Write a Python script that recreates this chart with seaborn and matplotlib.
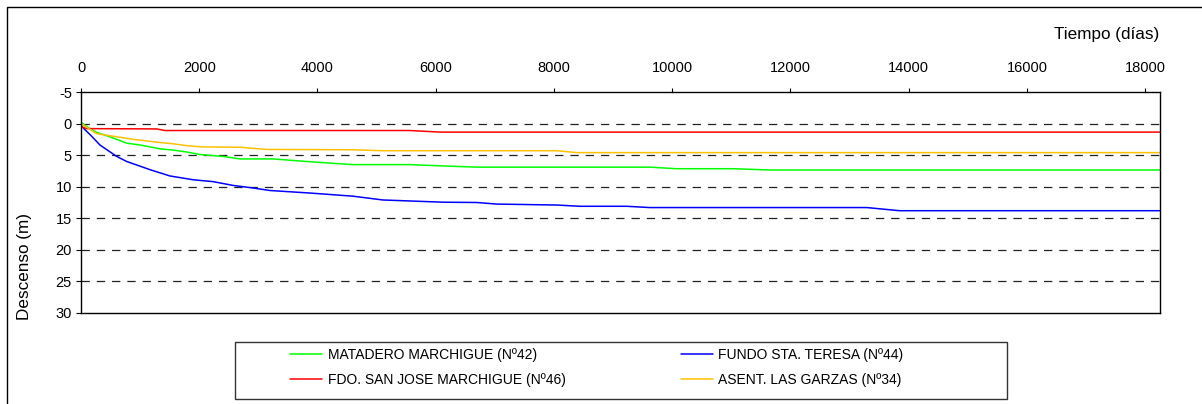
import matplotlib
matplotlib.use("Agg")
import matplotlib.pyplot as plt
from matplotlib import font_manager
from matplotlib.patches import Rectangle
import seaborn as sns
import pandas as pd
import numpy as np

# series: days and drawdown (m)
dias_42 = [0, 100, 265, 490, 772, 1000, 1335, 1560, 1787, 2012, 2400, 2690, 3250, 3800, 4600, 5560, 6100, 6700, 9620, 10075, 11020, 11650, 18250]
desc_42 = [-0.2, 0.5, 1.4, 2.1, 3.1, 3.4, 4.0, 4.2, 4.5, 4.9, 5.2, 5.6, 5.6, 6.0, 6.5, 6.5, 6.7, 6.9, 6.9, 7.15, 7.15, 7.35, 7.35]

dias_44 = [0, 60, 180, 321, 603, 772, 1166, 1505, 1899, 2237, 2575, 2910, 3195, 3871, 4600, 5105, 6120, 6695, 7030, 8050, 8435, 9230, 9620, 13290, 13845, 18250]
desc_44 = [0.3, 0.9, 2.0, 3.4, 5.2, 6.0, 7.3, 8.3, 8.9, 9.2, 9.8, 10.2, 10.6, 11.0, 11.5, 12.1, 12.45, 12.5, 12.75, 12.9, 13.1, 13.1, 13.3, 13.3, 13.8, 13.8]

dias_46 = [0, 100, 1280, 1420, 5560, 6070, 18250]
desc_46 = [0.5, 0.8, 0.85, 1.1, 1.1, 1.35, 1.35]

dias_34 = [0, 265, 885, 1335, 1560, 1787, 2065, 2688, 3140, 3250, 4600, 5105, 8050, 8385, 18250]
desc_34 = [0.0, 1.6, 2.5, 3.0, 3.2, 3.5, 3.7, 3.75, 4.1, 4.1, 4.15, 4.3, 4.3, 4.6, 4.6]

nombres = ["MATADERO MARCHIGUE (Nº42)", "FUNDO STA. TERESA (Nº44)",
           "FDO. SAN JOSE MARCHIGUE (Nº46)", "ASENT. LAS GARZAS (Nº34)"]
colores = ["#00FF00", "#0000FF", "#FF0000", "#FFC000"]

df = pd.concat([
    pd.DataFrame({"dias": dias_42, "descenso": desc_42, "pozo": nombres[0]}),
    pd.DataFrame({"dias": dias_44, "descenso": desc_44, "pozo": nombres[1]}),
    pd.DataFrame({"dias": dias_46, "descenso": desc_46, "pozo": nombres[2]}),
    pd.DataFrame({"dias": dias_34, "descenso": desc_34, "pozo": nombres[3]}),
])

sns.set_style("white")
plt.rcParams["font.family"] = ["Liberation Sans", "DejaVu Sans"]
plt.rcParams["lines.scale_dashes"] = False
plt.rcParams["axes.unicode_minus"] = False
plt.rcParams["text.color"] = "black"
plt.rcParams["xtick.color"] = "black"
plt.rcParams["ytick.color"] = "black"

names = {f.name for f in font_manager.fontManager.ttflist}
narrow = "Liberation Sans Narrow" if "Liberation Sans Narrow" in names else "Liberation Sans"

W, H = 1202, 404
fig = plt.figure(figsize=(W / 100, H / 100), dpi=100)
ax = fig.add_axes([81 / W, 1 - 313 / H, (1160 - 81) / W, (313 - 92) / H])

sns.lineplot(data=df, x="dias", y="descenso", hue="pozo", hue_order=nombres,
             palette=colores, estimator=None, sort=False, lw=1.1, ax=ax)

ax.set_xlim(0, 18250)
ax.set_ylim(30, -5)
ax.set_xticks(np.arange(0, 18001, 2000))
ax.set_yticks(np.arange(-5, 31, 5))
ax.xaxis.tick_top()
ax.tick_params(axis="x", direction="out", length=3, width=0.8, pad=9, labelsize=10.5,
               top=True, bottom=False, colors="black")
ax.tick_params(axis="y", direction="out", length=3.5, width=0.8, pad=3, labelsize=10.5,
               left=True, colors="black")
for s in ax.spines.values():
    s.set_color("black")
    s.set_linewidth(1)

for v in range(0, 30, 5):
    ax.axhline(v, color="#222222", lw=0.9, ls=(0, (6, 5)), zorder=0.5)

ax.set_xlabel("")
ax.set_ylabel("")
fig.text(1159 / W, 1 - 35 / H, "Tiempo (días)", ha="right", va="center", fontsize=12.3, color="black")
fig.text(25 / W, 1 - 266 / H, "Descenso (m)", ha="center", va="center", rotation=90,
         fontsize=12.3, color="black")

handles, labels = ax.get_legend_handles_labels()
ax.get_legend().remove()
order = [0, 2, 1, 3]
leg = fig.legend([handles[i] for i in order], [labels[i] for i in order], ncol=2,
                 loc="center left", bbox_to_anchor=(290 / W, 1 - 367.5 / H),
                 frameon=False, borderpad=0, borderaxespad=0,
                 handlelength=2.3, handletextpad=0.4, columnspacing=8.3, labelspacing=0.75,
                 prop={"family": narrow, "size": 10})
for t in leg.get_texts():
    t.set_color("black")

# legend frame and the outer chart border
fig.add_artist(Rectangle((235 / W, 1 - 399 / H), (1007 - 235) / W, (399 - 342) / H,
                         transform=fig.transFigure, fill=False, ec="#333333", lw=1))
fig.add_artist(Rectangle((7 / W, -0.05), 1.1, 1 - 7 / H + 0.05,
                         transform=fig.transFigure, fill=False, ec="black", lw=1))

fig.savefig("out.png", dpi=100)
